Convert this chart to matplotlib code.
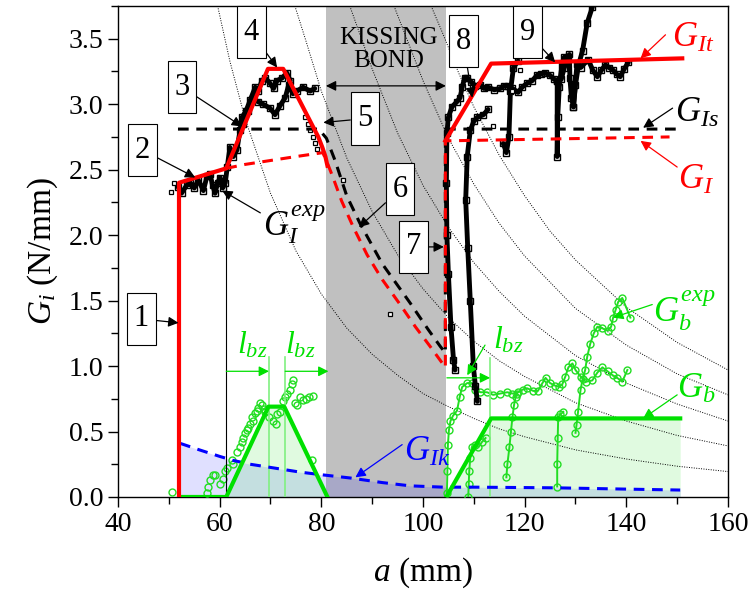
import matplotlib
matplotlib.use('Agg')
import matplotlib.pyplot as plt
from matplotlib.path import Path
from matplotlib.ticker import MultipleLocator, FormatStrFormatter

plt.rcParams['font.family'] = ['Liberation Serif', 'DejaVu Serif']
plt.rcParams['mathtext.fontset'] = 'custom'
plt.rcParams['mathtext.rm'] = 'Liberation Serif'
plt.rcParams['mathtext.it'] = 'Liberation Serif:italic'
plt.rcParams['mathtext.bf'] = 'Liberation Serif:bold'

RED = '#ff0000'
GREEN = '#00e000'
LGREEN = '#80f080'
BLUE = '#0000ff'

# kissing bond zone (mm)
kb_start, kb_end = 80.9, 104.5

# model curves
git_a = [52.0, 52.0, 61.3, 69.5, 72.5, 79.4, 80.2, 80.8, 81.2]
git_g = [0.0, 2.40, 2.51, 3.27, 3.27, 2.75, 2.67, 2.60, 2.53]
git2_a = [104.4, 113.4, 151.0]
git2_g = [2.72, 3.31, 3.35]

gi_a = [61.3, 65.0, 70.0, 75.0, 80.3, 81.5, 82.3, 84.0, 86.3, 89.0, 92.0, 95.5, 98.5,
        101.4, 104.4, 104.4, 148.5]
gi_g = [2.51, 2.54, 2.57, 2.60, 2.63, 2.52, 2.44, 2.26, 2.06, 1.85, 1.66, 1.47, 1.30,
        1.15, 0.99, 2.72, 2.75]

gis_a = [51.8, 79.5, 81.0, 82.7, 85.0, 87.6, 92.0, 97.5, 101.0, 103.4, 104.4, 104.4, 150.6]
gis_g = [2.81, 2.81, 2.74, 2.57, 2.30, 2.09, 1.78, 1.48, 1.28, 1.15, 1.10, 2.81, 2.81]

gik_a = [52.2, 56.0, 60.0, 62.6, 66.0, 69.3, 75.8, 80.0, 85.7, 92.0, 97.5, 104.0, 110.0,
         126.0, 140.0, 150.6]
gik_g = [0.41, 0.36, 0.31, 0.28, 0.25, 0.23, 0.19, 0.17, 0.145, 0.11, 0.085, 0.075, 0.075,
         0.07, 0.06, 0.053]

gb_a = [52.2, 61.3, 69.6, 72.7, 81.2]
gb_g = [0.0, 0.0, 0.69, 0.69, 0.0]
gb2_a = [104.6, 113.4, 150.6]
gb2_g = [0.0, 0.60, 0.60]

# thin dotted iso-lines
iso_curves = [
    ([59.6, 62, 65, 70, 75, 80, 85, 90, 95, 100, 105, 110, 115, 120, 130, 140, 150, 160],
     [3.75, 3.33, 2.89, 2.32, 1.88, 1.55, 1.29, 1.09, 0.93, 0.79, 0.69, 0.60, 0.52, 0.46,
      0.36, 0.29, 0.235, 0.194]),
    ([74.8, 77, 80, 85, 90, 95, 100, 105, 110, 115, 120, 130, 140, 150, 160],
     [3.75, 3.48, 3.10, 2.59, 2.18, 1.85, 1.59, 1.37, 1.19, 1.04, 0.92, 0.72, 0.58, 0.47, 0.39]),
    ([85.6, 88, 90, 95, 100, 105, 110, 115, 120, 130, 140, 150, 160],
     [3.75, 3.49, 3.27, 2.78, 2.38, 2.06, 1.79, 1.57, 1.38, 1.08, 0.87, 0.71, 0.58]),
    ([94.3, 97, 100, 105, 110, 115, 120, 130, 140, 150, 160],
     [3.75, 3.48, 3.18, 2.74, 2.39, 2.09, 1.84, 1.44, 1.16, 0.94, 0.78]),
    ([101.6, 104, 107, 110, 115, 120, 125, 130, 140, 150, 160],
     [3.75, 3.53, 3.24, 2.98, 2.61, 2.30, 2.03, 1.81, 1.45, 1.18, 0.97]),
]

# experimental G_I (black)
exp_l1_a = [51.8, 52.5, 53.5, 54.2, 55.0, 55.8, 56.8, 57.5, 58.1, 58.6, 59.1, 59.6, 60.1,
            60.6, 61.1, 61.5, 62.0, 62.7, 63.4, 64.0, 64.4, 65.2, 66.0, 67.0, 67.6, 68.3,
            69.0, 69.9, 70.6, 71.3, 72.3, 73.2, 73.9]
exp_l1_g = [2.37, 2.32, 2.38, 2.40, 2.36, 2.42, 2.34, 2.45, 2.47, 2.38, 2.32, 2.40, 2.44,
            2.36, 2.40, 2.52, 2.67, 2.60, 2.65, 2.80, 2.90, 2.95, 3.03, 3.13, 3.10, 3.18,
            3.20, 3.16, 3.12, 3.18, 3.20, 3.24, 3.18]
exp_l2_a = [64.5, 65.5, 66.5, 67.5, 68.5, 69.9, 70.9, 71.9, 72.9, 73.6, 74.4, 75.2, 76.4,
            77.8, 78.7]
exp_l2_g = [2.85, 2.95, 3.05, 3.02, 3.00, 2.97, 2.92, 2.99, 3.05, 3.15, 3.08, 3.10, 3.13,
            3.10, 3.12]
exp_r1_a = [106.3, 106.0, 105.5, 105.0, 104.7, 104.6, 104.7, 105.0, 105.7, 106.7, 107.3,
            107.7, 108.2, 108.7, 109.5, 110.3, 111.3, 112.0, 112.8, 114.0, 115.2, 116.0,
            116.8, 117.6, 118.7, 119.5, 120.5, 121.5, 122.4, 123.2, 124.0, 125.0, 125.8,
            126.4, 127.2, 127.8, 128.6, 128.8, 128.9, 129.2, 129.6, 130.3, 131.0, 132.5,
            133.4, 134.3, 135.1, 135.9, 136.6, 137.4, 138.1, 138.8, 139.6, 140.4]
exp_r1_g = [0.97, 1.05, 1.30, 1.70, 2.00, 2.40, 2.78, 2.90, 2.98, 3.02, 3.05, 3.13, 3.20,
            3.20, 3.17, 3.14, 3.15, 3.12, 3.13, 3.11, 3.12, 3.14, 3.14, 3.12, 3.09, 3.13,
            3.16, 3.18, 3.22, 3.23, 3.24, 3.22, 3.19, 3.18, 3.19, 3.28, 3.36, 3.38, 3.20,
            3.05, 2.98, 3.31, 3.28, 3.34, 3.26, 3.21, 3.26, 3.30, 3.28, 3.26, 3.23, 3.21,
            3.27, 3.32]
exp_r2_a = [110.7, 110.3, 109.9, 109.3, 108.8, 108.4, 108.7, 109.3, 110.0, 110.7, 111.9, 112.8]
exp_r2_g = [0.73, 0.85, 1.00, 1.50, 1.90, 2.27, 2.60, 2.80, 2.87, 2.90, 2.92, 2.96]
exp_r3_a = [115.8, 116.4, 116.9, 117.2, 117.8, 118.7]
exp_r3_g = [2.70, 2.63, 2.75, 3.10, 3.28, 3.33]
exp_r4_a = [126.4, 126.4, 126.5, 126.8, 127.3, 127.8]
exp_r4_g = [3.18, 2.60, 2.90, 3.13, 3.30, 3.36]
exp_r5_a = [129.6, 130.0, 130.6, 131.4, 132.3, 133.3, 133.7]
exp_r5_g = [2.98, 3.15, 3.30, 3.41, 3.62, 3.74, 3.80]
sq_a = [50.5, 51.0, 76.8, 77.3, 77.8, 78.3, 78.8, 79.2, 84.3, 93.5, 113.8, 117.6, 119.1]
sq_g = [2.33, 2.40, 2.90, 2.85, 2.80, 2.75, 2.70, 2.66, 2.42, 1.40, 2.83, 3.10, 3.26]

# experimental G_b (green circles)
gbl_a = [50.6, 57.5, 57.7, 58.1, 58.7, 59.0, 60.1, 60.7, 61.1, 61.5, 62.4, 62.7, 63.4, 64.0,
         64.3, 64.6, 65.0, 65.3, 65.6, 66.0, 66.3, 66.6, 67.0, 67.3, 67.6, 68.0, 68.3, 68.7,
         69.0, 69.8, 70.4, 71.0, 71.2, 71.9, 72.5, 72.9, 73.3, 73.9, 74.2, 74.5, 74.8, 75.2,
         75.8, 76.4, 77.0, 77.6, 78.4, 78.2]
gbl_g = [0.04, 0.03, 0.08, 0.13, 0.17, 0.17, 0.10, 0.14, 0.20, 0.22, 0.28, 0.25, 0.34, 0.38,
         0.42, 0.45, 0.49, 0.51, 0.53, 0.56, 0.61, 0.58, 0.64, 0.66, 0.68, 0.72, 0.70, 0.67,
         0.65, 0.61, 0.58, 0.56, 0.63, 0.65, 0.73, 0.76, 0.79, 0.82, 0.86, 0.89, 0.72, 0.70,
         0.76, 0.74, 0.75, 0.76, 0.77, 0.28]
gbr1_a = [104.7, 104.8, 104.9, 105.1, 105.4, 105.9, 106.7, 107.2, 107.7, 108.7, 109.7, 110.3,
          111.3, 112.6, 113.8, 115.2, 116.6, 117.6, 118.7, 119.6, 120.5, 121.7, 122.6, 123.5,
          124.1, 125.0, 126.0, 126.8, 127.4, 128.0, 128.6, 129.4, 130.0, 131.0, 132.0, 133.3,
          134.3, 135.3, 136.3, 137.3, 138.2, 139.2, 140.2]
gbr1_g = [0.03, 0.20, 0.40, 0.51, 0.58, 0.62, 0.66, 0.76, 0.84, 0.87, 0.87, 0.82, 0.80, 0.80,
          0.78, 0.79, 0.80, 0.79, 0.80, 0.82, 0.83, 0.81, 0.81, 0.87, 0.91, 0.87, 0.85, 0.84,
          0.86, 0.92, 0.99, 1.02, 0.97, 0.92, 0.88, 0.89, 0.95, 0.99, 0.96, 0.93, 0.91, 0.88,
          0.97]
gbr2_a = [108.9, 109.0, 109.1, 109.3, 109.6, 110.2, 110.9, 111.6, 112.3]
gbr2_g = [0.00, 0.10, 0.20, 0.30, 0.38, 0.40, 0.38, 0.42, 0.45]
gbr3_a = [116.4, 116.6, 117.0, 117.3, 117.6, 117.9, 118.2, 118.5]
gbr3_g = [0.15, 0.25, 0.38, 0.50, 0.61, 0.70, 0.76, 0.79]
gbr4_a = [126.4, 126.4, 126.5, 126.6, 127.0, 127.6]
gbr4_g = [0.08, 0.25, 0.45, 0.61, 0.63, 0.65]
gbr5_a = [130.0, 130.2, 130.5, 131.0, 131.4, 131.9, 132.3, 132.9, 133.6, 134.3, 135.2, 136.3,
          137.0, 137.4, 137.9, 138.4, 139.2, 140.8]
gbr5_g = [0.49, 0.55, 0.65, 0.82, 0.90, 0.97, 1.07, 1.17, 1.25, 1.30, 1.29, 1.27, 1.30, 1.37,
          1.43, 1.49, 1.52, 1.37]

# numbered boxes: label, box centre, arrow target
box_labels = ['1', '2', '3', '4', '5', '6', '7', '8', '9']
box_pos = [(44.6, 1.36), (44.8, 2.65), (52.6, 3.13), (66.2, 3.55), (88.6, 2.89),
           (95.5, 2.35), (98.1, 1.91), (107.9, 3.48), (120.5, 3.55)]
box_target = [(51.9, 1.33), (55.2, 2.44), (64.4, 2.83), (71.3, 3.28), (80.4, 2.86),
              (87.4, 2.06), (104.1, 1.91), (109.7, 3.05), (126.0, 3.32)]


def tall_box(x0, y0, width, height, mutation_size):
    # narrow sides, tall top/bottom padding like the original number boxes
    px = 0.22 * mutation_size
    py = 0.38 * mutation_size
    x0, y0 = x0 - px, y0 - py
    x1, y1 = x0 + width + 2 * px, y0 + height + 2 * py
    return Path([(x0, y0), (x1, y0), (x1, y1), (x0, y1), (x0, y0)], closed=True)


def arrow(xy, xytext, color='k'):
    ax.annotate('', xy=xy, xytext=xytext, zorder=9,
                arrowprops=dict(arrowstyle='-|>', color=color, lw=0.9, mutation_scale=15,
                                shrinkA=0, shrinkB=0))


fig = plt.figure(figsize=(7.53, 6.0), dpi=100)
ax = fig.add_axes([0.1567, 0.1717, 0.8101, 0.8183])
ax.set_xlim(40, 160)
ax.set_ylim(0, 3.75)

ax.axvspan(kb_start, kb_end, color='#c0c0c0', lw=0, zorder=0)
ax.fill_between(gik_a, 0, gik_g, color='blue', alpha=0.12, lw=0, zorder=1)
ax.fill_between(gb_a, 0, gb_g, color='#00dd00', alpha=0.12, lw=0, zorder=1)
ax.fill_between(gb2_a, 0, gb2_g, color='#00dd00', alpha=0.12, lw=0, zorder=1)

for ca, cg in iso_curves:
    ax.plot(ca, cg, color='k', lw=0.7, ls=(0, (1, 1.5)), zorder=2)

# experimental data
for xa, xg in [(exp_l1_a, exp_l1_g), (exp_l2_a, exp_l2_g), (exp_r1_a, exp_r1_g),
               (exp_r2_a, exp_r2_g), (exp_r3_a, exp_r3_g), (exp_r4_a, exp_r4_g),
               (exp_r5_a, exp_r5_g)]:
    ax.plot(xa, xg, color='k', lw=3.5, marker='s', ms=4, mfc='none', mec='k', mew=1,
            solid_capstyle='round', zorder=4)
ax.plot(sq_a, sq_g, ls='none', marker='s', ms=3.5, mfc='white', mec='k', mew=0.9, zorder=4)

ax.plot(gbl_a, gbl_g, ls='none', marker='o', ms=5, mfc='none', mec='#22dd22', mew=1, zorder=3)
for ga, gg in [(gbr1_a, gbr1_g), (gbr2_a, gbr2_g), (gbr3_a, gbr3_g), (gbr4_a, gbr4_g),
               (gbr5_a, gbr5_g)]:
    ax.plot(ga, gg, color='#22dd22', lw=1.4, marker='o', ms=5, mfc='none', mec='#22dd22',
            mew=1, zorder=3)

# thin helper lines
ax.plot([61.3, 61.3], [0, 2.38], color='k', lw=0.8, zorder=3)
for xv, top in [(69.7, 1.07), (72.9, 1.07), (113.2, 1.06)]:
    ax.plot([xv, xv], [0, top], color=LGREEN, lw=1.2, zorder=3)
arrow((69.7, 0.96), (61.3, 0.96), GREEN)
arrow((81.4, 0.96), (72.9, 0.96), GREEN)
arrow((113.2, 0.91), (104.7, 0.91), GREEN)
arrow((108.7, 0.93), (112.2, 1.16), GREEN)

# model lines
ax.plot(gik_a, gik_g, color=BLUE, lw=2.2, ls=(0, (3.5, 2.5)), zorder=5)
ax.plot(gis_a, gis_g, color='k', lw=2.2, ls=(0, (3.5, 2.5)), zorder=5)
ax.plot(gi_a, gi_g, color=RED, lw=2.2, ls=(0, (3.5, 2.5)), zorder=5)
ax.plot(gb_a, gb_g, color=GREEN, lw=3, zorder=6)
ax.plot(gb2_a, gb2_g, color=GREEN, lw=3, zorder=6)
ax.plot(git_a, git_g, color=RED, lw=3, zorder=6)
ax.plot(git2_a, git2_g, color=RED, lw=3, zorder=6)

# kissing bond label
ax.text(93.2, 3.42, 'KISSING\nBOND', ha='center', va='center', fontsize=18,
        linespacing=1.05, zorder=8)
ax.annotate('', xy=(kb_start, 3.14), xytext=(kb_end, 3.14), zorder=9,
            arrowprops=dict(arrowstyle='<|-|>', color='k', lw=0.9, mutation_scale=15,
                            shrinkA=0, shrinkB=0))

for lab, bp, tp in zip(box_labels, box_pos, box_target):
    ax.annotate(lab, xy=tp, xytext=bp, ha='center', va='center', fontsize=22, zorder=10,
                bbox=dict(boxstyle=tall_box, fc='white', ec='k', lw=0.8),
                arrowprops=dict(arrowstyle='-|>', color='k', lw=0.9, mutation_scale=15,
                                shrinkA=0, shrinkB=0))

# curve names
ax.text(149.0, 3.50, r'$G_{It}$', color=RED, fontsize=25, va='center', zorder=8)
arrow((142.8, 3.35), (147.7, 3.53), RED)
ax.text(149.6, 2.93, r'$G_{Is}$', color='k', fontsize=25, va='center', zorder=8)
arrow((143.3, 2.82), (149.1, 2.97))
ax.text(150.2, 2.42, r'$G_{I}$', color=RED, fontsize=25, va='center', zorder=8)
arrow((142.8, 2.72), (150.0, 2.52), RED)
ax.text(68.5, 2.08, r'$G_{I}^{exp}$', color='k', fontsize=25, va='center', zorder=8)
arrow((60.5, 2.34), (68.0, 2.17))
ax.text(145.3, 1.42, r'$G_{b}^{exp}$', color=GREEN, fontsize=25, va='center', zorder=8)
arrow((137.4, 1.37), (145.1, 1.47), GREEN)
ax.text(150.0, 0.82, r'$G_{b}$', color=GREEN, fontsize=25, va='center', zorder=8)
arrow((143.3, 0.60), (150.0, 0.78), GREEN)
ax.text(96.3, 0.34, r'$G_{Ik}$', color=BLUE, fontsize=25, va='center', zorder=8)
arrow((86.7, 0.15), (95.9, 0.40), BLUE)
ax.text(66.4, 1.16, r'$l_{bz}$', color=GREEN, fontsize=23, ha='center', va='center', zorder=8)
ax.text(75.8, 1.16, r'$l_{bz}$', color=GREEN, fontsize=23, ha='center', va='center', zorder=8)
ax.text(116.8, 1.20, r'$l_{bz}$', color=GREEN, fontsize=23, ha='center', va='center', zorder=8)

ax.xaxis.set_major_locator(MultipleLocator(20))
ax.xaxis.set_minor_locator(MultipleLocator(10))
ax.yaxis.set_major_locator(MultipleLocator(0.5))
ax.yaxis.set_minor_locator(MultipleLocator(0.25))
ax.yaxis.set_major_formatter(FormatStrFormatter('%.1f'))
ax.tick_params(which='both', direction='out', top=False, right=False, width=1)
ax.tick_params(which='major', length=7, labelsize=20)
ax.tick_params(which='minor', length=5)
for s in ax.spines.values():
    s.set_linewidth(1)

ax.set_xlabel(r'$a$ (mm)', fontsize=24, labelpad=14)
ax.set_ylabel(r'$G_i$ (N/mm)', fontsize=24, labelpad=6)

fig.savefig('out.png', dpi=100)
